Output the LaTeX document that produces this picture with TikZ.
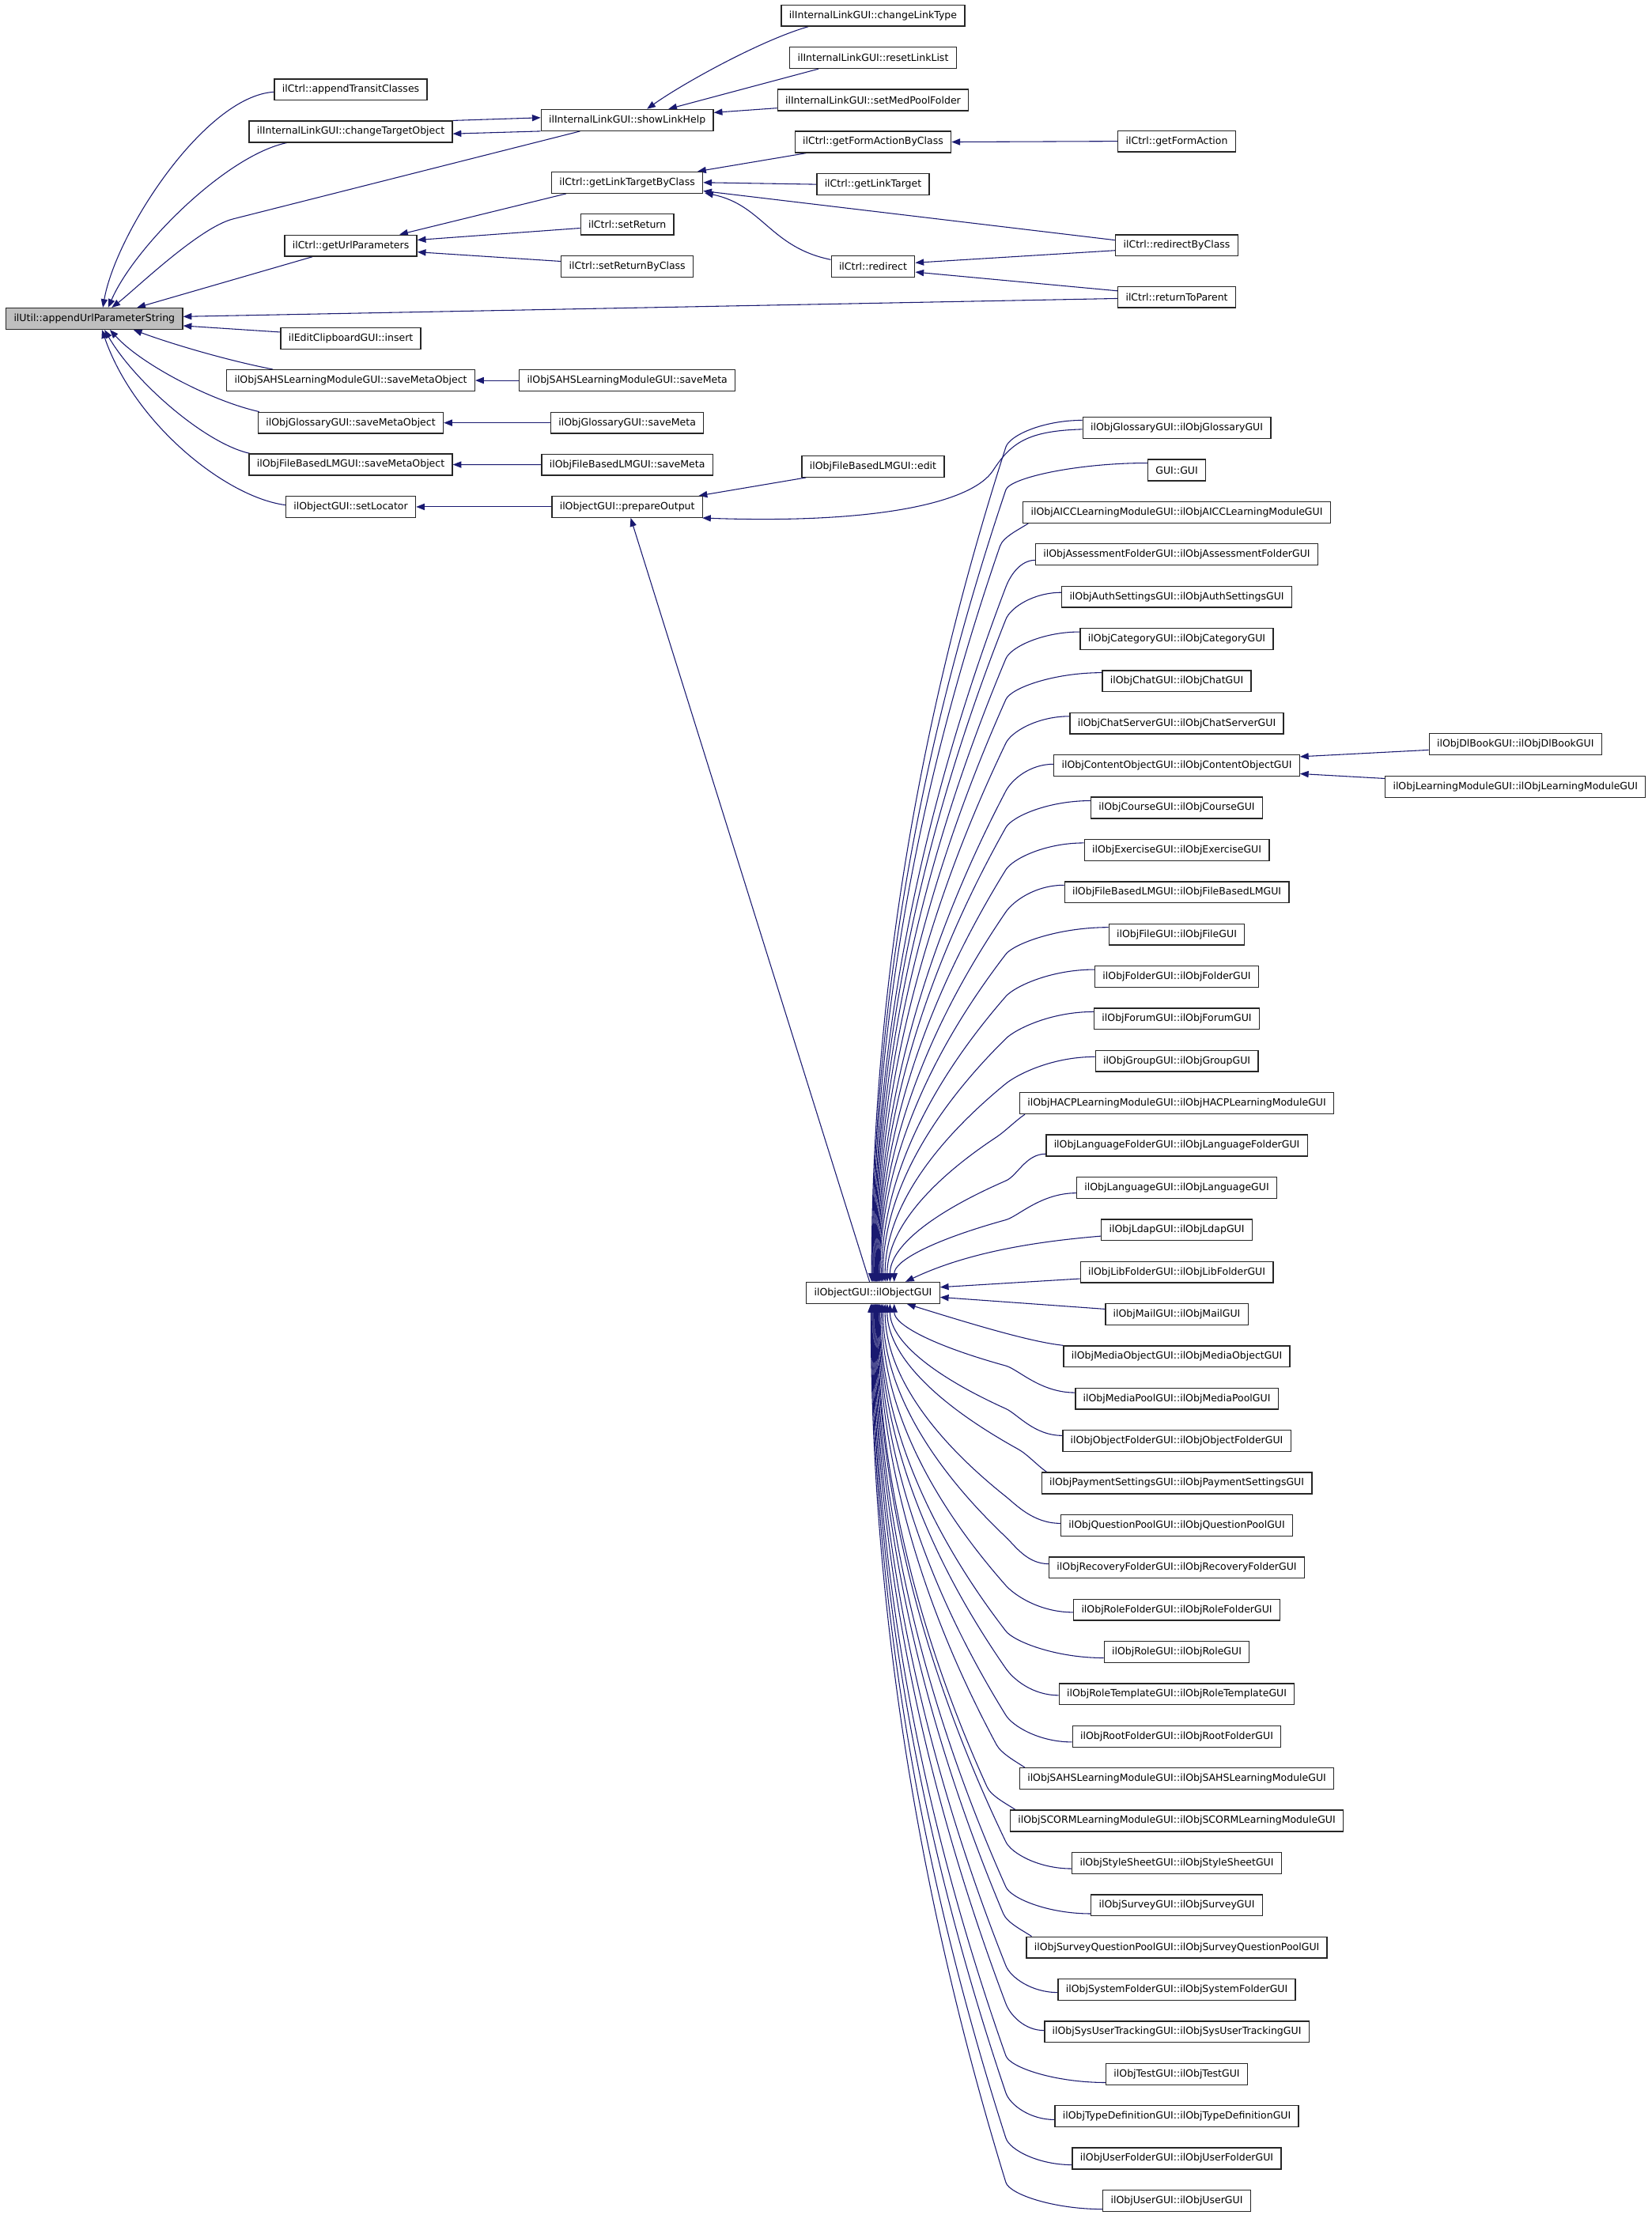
\documentclass[tikz,border=0pt]{standalone}
\usepackage{fontspec}
\setmainfont{DejaVu Sans}
\usetikzlibrary{arrows.meta,calc}
\definecolor{edgec}{RGB}{25,25,112}
\pgfdeclarelayer{bg}
\pgfsetlayers{bg,main}
\newcommand\eUpN[3]{%
  \coordinate (S) at ($(#1.west)+(0,#3)$);
  \coordinate (B) at ($(S -| chan)+(0,19)$);
  \coordinate (T) at ($(og.north)+(#2,0)$);
  \coordinate (C) at ($(T)!0.5!(T |- B)$);
  \draw[e] (S) .. controls ($(S)!0.5!(S -| B)$) and ($(B)!-9pt!(C)$) .. (B)
     .. controls ($(B)!2/3!(C)$) and ($(T)!2/3!(C)$) .. (T);}
\newcommand\eUpW[2]{%
  \coordinate (S) at ($(#1.south west)+(4,0)$);
  \coordinate (B) at ($(S)+(-20,16)$);
  \coordinate (T) at ($(og.north)+(#2,0)$);
  \coordinate (C) at ($(T)!0.5!(T |- B)$);
  \draw[e] (S) .. controls ($(S)+(-6,4)$) and ($(B)!-7pt!(C)$) .. (B)
     .. controls ($(B)!2/3!(C)$) and ($(T)!2/3!(C)$) .. (T);}
\newcommand\eLoN[3]{%
  \coordinate (S) at ($(#1.west)+(0,#3)$);
  \coordinate (B) at ($(S -| chan)+(0,-19)$);
  \coordinate (T) at ($(og.south)+(#2,0)$);
  \coordinate (C) at ($(T)!0.5!(T |- B)$);
  \draw[e] (S) .. controls ($(S)!0.5!(S -| B)$) and ($(B)!-9pt!(C)$) .. (B)
     .. controls ($(B)!2/3!(C)$) and ($(T)!2/3!(C)$) .. (T);}
\newcommand\eLoW[2]{%
  \coordinate (S) at ($(#1.north west)+(4,0)$);
  \coordinate (B) at ($(S)+(-20,-16)$);
  \coordinate (T) at ($(og.south)+(#2,0)$);
  \coordinate (C) at ($(T)!0.5!(T |- B)$);
  \draw[e] (S) .. controls ($(S)+(-6,-4)$) and ($(B)!-7pt!(C)$) .. (B)
     .. controls ($(B)!2/3!(C)$) and ($(T)!2/3!(C)$) .. (T);}
\begin{document}
\begin{tikzpicture}[x=1pt,y=-1pt,
  box/.style={draw=black!85, line width=0.75pt, fill=white, minimum height=15pt,
    inner xsep=5.5pt, inner ysep=0pt, font=\fontsize{7}{8}\selectfont},
  e/.style={draw=edgec, line width=0.6pt, -{Triangle[length=6pt,width=4.6pt]}}]
\useasboundingbox (0,0) rectangle (1169,1568);
\coordinate (chan) at (712,0);
% column 1
\node[box, fill=gray!50] (u) at (66.8,225.6) {ilUtil::appendUrlParameterString};
% column 2
\node[box] (at)   at (248.3,63.4)  {ilCtrl::appendTransitClasses};
\node[box] (cto)  at (248.3,93.2)  {ilInternalLinkGUI::changeTargetObject};
\node[box] (gup)  at (248.3,173.9) {ilCtrl::getUrlParameters};
\node[box] (ins)  at (248.3,239.6) {ilEditClipboardGUI::insert};
\node[box] (smo1) at (248.3,269.3) {ilObjSAHSLearningModuleGUI::saveMetaObject};
\node[box] (smo2) at (248.3,299.3) {ilObjGlossaryGUI::saveMetaObject};
\node[box] (smo3) at (248.3,328.9) {ilObjFileBasedLMGUI::saveMetaObject};
\node[box] (sl)   at (248.3,358.8) {ilObjectGUI::setLocator};
% column 3
\node[box] (slh)  at (444,85)    {ilInternalLinkGUI::showLinkHelp};
\node[box] (gltc) at (444,129.2) {ilCtrl::getLinkTargetByClass};
\node[box] (sr)   at (444,158.8) {ilCtrl::setReturn};
\node[box] (srbc) at (444,188.7) {ilCtrl::setReturnByClass};
\node[box] (sm1)  at (444,269.3) {ilObjSAHSLearningModuleGUI::saveMeta};
\node[box] (sm2)  at (444,299.3) {ilObjGlossaryGUI::saveMeta};
\node[box] (sm3)  at (444,329)   {ilObjFileBasedLMGUI::saveMeta};
\node[box] (po)   at (444,358.8) {ilObjectGUI::prepareOutput};
% column 4
\node[box] (clt)  at (618,11)    {ilInternalLinkGUI::changeLinkType};
\node[box] (rll)  at (618,40.9)  {ilInternalLinkGUI::resetLinkList};
\node[box] (smp)  at (618,70.8)  {ilInternalLinkGUI::setMedPoolFolder};
\node[box] (gfac) at (618,100.5) {ilCtrl::getFormActionByClass};
\node[box] (glt)  at (618,130.5) {ilCtrl::getLinkTarget};
\node[box] (rd)   at (618,188.7) {ilCtrl::redirect};
\node[box] (ed)   at (618,330.2) {ilObjFileBasedLMGUI::edit};
\node[box] (og)   at (618,915.2) {ilObjectGUI::ilObjectGUI};
% column 5
\node[box] (gfa)  at (833,100)   {ilCtrl::getFormAction};
\node[box] (rbc)  at (833,173.7) {ilCtrl::redirectByClass};
\node[box] (rtp)  at (833,210.3) {ilCtrl::returnToParent};
\foreach \n/\t [count=\i] in {
  gc/ilObjGlossaryGUI::ilObjGlossaryGUI,
  gui/GUI::GUI,
  aicc/ilObjAICCLearningModuleGUI::ilObjAICCLearningModuleGUI,
  assess/ilObjAssessmentFolderGUI::ilObjAssessmentFolderGUI,
  auth/ilObjAuthSettingsGUI::ilObjAuthSettingsGUI,
  cat/ilObjCategoryGUI::ilObjCategoryGUI,
  chat/ilObjChatGUI::ilObjChatGUI,
  chatsrv/ilObjChatServerGUI::ilObjChatServerGUI,
  co/ilObjContentObjectGUI::ilObjContentObjectGUI,
  course/ilObjCourseGUI::ilObjCourseGUI,
  exer/ilObjExerciseGUI::ilObjExerciseGUI,
  fblm/ilObjFileBasedLMGUI::ilObjFileBasedLMGUI,
  file/ilObjFileGUI::ilObjFileGUI,
  folder/ilObjFolderGUI::ilObjFolderGUI,
  forum/ilObjForumGUI::ilObjForumGUI,
  group/ilObjGroupGUI::ilObjGroupGUI,
  hacp/ilObjHACPLearningModuleGUI::ilObjHACPLearningModuleGUI,
  langf/ilObjLanguageFolderGUI::ilObjLanguageFolderGUI,
  lang/ilObjLanguageGUI::ilObjLanguageGUI,
  ldap/ilObjLdapGUI::ilObjLdapGUI,
  lib/ilObjLibFolderGUI::ilObjLibFolderGUI,
  mail/ilObjMailGUI::ilObjMailGUI,
  mob/ilObjMediaObjectGUI::ilObjMediaObjectGUI,
  mpool/ilObjMediaPoolGUI::ilObjMediaPoolGUI,
  objf/ilObjObjectFolderGUI::ilObjObjectFolderGUI,
  pay/ilObjPaymentSettingsGUI::ilObjPaymentSettingsGUI,
  qpool/ilObjQuestionPoolGUI::ilObjQuestionPoolGUI,
  recov/ilObjRecoveryFolderGUI::ilObjRecoveryFolderGUI,
  rolef/ilObjRoleFolderGUI::ilObjRoleFolderGUI,
  role/ilObjRoleGUI::ilObjRoleGUI,
  roletpl/ilObjRoleTemplateGUI::ilObjRoleTemplateGUI,
  root/ilObjRootFolderGUI::ilObjRootFolderGUI,
  sahs/ilObjSAHSLearningModuleGUI::ilObjSAHSLearningModuleGUI,
  scorm/ilObjSCORMLearningModuleGUI::ilObjSCORMLearningModuleGUI,
  style/ilObjStyleSheetGUI::ilObjStyleSheetGUI,
  survey/ilObjSurveyGUI::ilObjSurveyGUI,
  sqpool/ilObjSurveyQuestionPoolGUI::ilObjSurveyQuestionPoolGUI,
  sysf/ilObjSystemFolderGUI::ilObjSystemFolderGUI,
  track/ilObjSysUserTrackingGUI::ilObjSysUserTrackingGUI,
  test/ilObjTestGUI::ilObjTestGUI,
  typedef/ilObjTypeDefinitionGUI::ilObjTypeDefinitionGUI,
  userf/ilObjUserFolderGUI::ilObjUserFolderGUI,
  user/ilObjUserGUI::ilObjUserGUI}
  \node[box] (\n) at (833,{302.9+(\i-1)*29.88}) {\t};
% column 6
\node[box] (db) at (1072.7,526.7) {ilObjDlBookGUI::ilObjDlBookGUI};
\node[box] (lm) at (1072.7,556.9) {ilObjLearningModuleGUI::ilObjLearningModuleGUI};

\begin{pgfonlayer}{bg}
% into ilUtil
\draw[e] ($(at.west)+(0,1.7)$) .. controls (145,68) and (82,165) .. ($(u.north)+(6,0)$);
\draw[e] ($(cto.south west)+(27,0)$) .. controls (160,110) and (95,175) .. ($(u.north)+(9.8,0)$);
\draw[e] ($(slh.south west)+(28,0)$) -- (165,155) .. controls (140.8,161.1) and (95.4,205.2) .. ($(u.north)+(12.3,0)$);
\draw[e] ($(gup.south west)+(20,0)$) -- ($(u.north)+(30.2,0)$);
\draw[e] ($(rtp.west)+(0,1)$) -- ($(u.east)+(0,-1.5)$);
\draw[e] ($(ins.west)+(0,-4.5)$) -- ($(u.east)+(0,5)$);
\draw[e] ($(smo1.north west)+(33,0)$) .. controls (160,255) and (120,243) .. ($(u.south)+(27.7,0)$);
\draw[e] ($(smo2.north west)+(1,0)$) .. controls (150,284) and (100,258) .. ($(u.south)+(11,0)$);
\draw[e] ($(smo3.north west)+(1,0)$) .. controls (145,314) and (95,270) .. ($(u.south)+(7.2,0)$);
\draw[e] ($(sl.west)+(0,-1.3)$) .. controls (160,352) and (95,300) .. ($(u.south)+(5.4,0)$);
% changeTargetObject <-> showLinkHelp
\draw[e] (cto.north east) -- ($(slh.west)+(0,-1.7)$);
\draw[e] (slh.south west) -- ($(cto.east)+(0,1.5)$);
% into showLinkHelp
\draw[e] ($(clt.south west)+(19.4,0)$) .. controls (540,28) and (485,58) .. ($(slh.north)+(14,0)$);
\draw[e] ($(rll.south west)+(20.7,0)$) -- ($(slh.north)+(29.2,0)$);
\draw[e] ($(smp.west)+(0,5.7)$) -- ($(slh.east)+(0,-5.3)$);
% into getUrlParameters
\draw[e] ($(gltc.south west)+(10.7,0)$) -- ($(gup.north east)+(-12.7,0)$);
\draw[e] ($(sr.west)+(0,2.7)$) -- ($(gup.east)+(0,-4)$);
\draw[e] ($(srbc.west)+(0,-3.7)$) -- ($(gup.east)+(0,4.5)$);
% into getLinkTargetByClass
\draw[e] ($(gfac.south west)+(8.4,0)$) -- ($(gltc.north east)+(-4,0)$);
\draw[e] (glt.west) -- (gltc.east);
\draw[e] ($(rbc.west)+(0,-3.7)$) -- ($(gltc.east)+(0,6)$);
\draw[e] ($(rd.west)+(0,-4.9)$) .. controls (545,175) and (540,145) .. ($(gltc.south east)+(1,-0.5)$);
% into redirect
\draw[e] ($(rbc.west)+(0,3.6)$) -- ($(rd.east)+(0,-2.7)$);
\draw[e] ($(rtp.west)+(0,-4.4)$) -- ($(rd.east)+(0,3.9)$);
% horizontal ones
\draw[e] (gfa.west) -- (gfac.east);
\draw[e] (sm1.west) -- (smo1.east);
\draw[e] (sm2.west) -- (smo2.east);
\draw[e] (sm3.west) -- (smo3.east);
\draw[e] (po.west) -- (sl.east);
% into prepareOutput
\draw[e] ($(ed.south west)+(3.3,0)$) -- ($(po.north east)+(-3,0)$);
\draw[e] ($(gc.west)+(0,1)$) .. controls (728,305) and (716,313) .. (703,333)
   .. controls (688,356) and (620,371) .. ($(po.south east)+(-0.5,0)$);
\draw[e] (og) -- (po);
% into ilObjContentObjectGUI
\draw[e] ($(db.west)+(0,4.2)$) -- ($(co.east)+(0,-6.3)$);
\draw[e] ($(lm.west)+(0,-5.8)$) -- ($(co.east)+(0,5.8)$);
% into ilObjectGUI (from above)
\eUpN{gc}{-1}{-5.4}
\eUpN{gui}{-0.5}{-5}
\eUpW{aicc}{0}
\eUpN{assess}{0.5}{4}
\eUpN{auth}{1}{-3}
\eUpN{cat}{1.5}{-5}
\eUpN{chat}{2}{-6}
\eUpN{chatsrv}{2.5}{-5}
\eUpN{co}{3}{-1}
\eUpN{course}{3.5}{-5}
\eUpN{exer}{4}{-5}
\eUpN{fblm}{4.5}{-5}
\eUpN{file}{5}{-5}
\eUpN{folder}{6}{-5}
\eUpN{forum}{7}{-5}
\eUpN{group}{8.5}{-3}
\eUpW{hacp}{10}
\eUpN{langf}{12}{6}
\eUpN{lang}{15}{3.8}
\draw[e] ($(ldap.west)+(0,4.4)$) .. controls (745,878) and (690,884) .. ($(og.north)+(23,0)$);
\draw[e] ($(lib.west)+(0,4.7)$) -- ($(og.east)+(0,-4)$);
\draw[e] ($(mail.west)+(0,-3.7)$) -- ($(og.east)+(0,3.1)$);
\draw[e] (mob.north west) .. controls (730,950) and (690,938) .. ($(og.south)+(24,0)$);
% into ilObjectGUI (from below)
\eLoN{mpool}{15}{-4.3}
\eLoN{objf}{12}{-3.8}
\eLoW{pay}{10}
\eLoN{qpool}{8.5}{-1.4}
\eLoN{recov}{7}{-2.6}
\eLoN{rolef}{6}{1.8}
\eLoN{role}{5}{4.2}
\eLoN{roletpl}{4.5}{0.8}
\eLoN{root}{4}{4}
\eLoW{sahs}{3.5}
\eLoW{scorm}{3}
\eLoN{style}{2.5}{4}
\eLoN{survey}{2}{6}
\eLoW{sqpool}{1.5}
\eLoN{sysf}{1}{2}
\eLoN{track}{0.5}{-1}
\eLoN{test}{0}{6}
\eLoN{typedef}{-0.5}{2.4}
\eLoN{userf}{-1}{4.5}
\eLoN{user}{-1.5}{6}
\end{pgfonlayer}
\end{tikzpicture}
\end{document}
